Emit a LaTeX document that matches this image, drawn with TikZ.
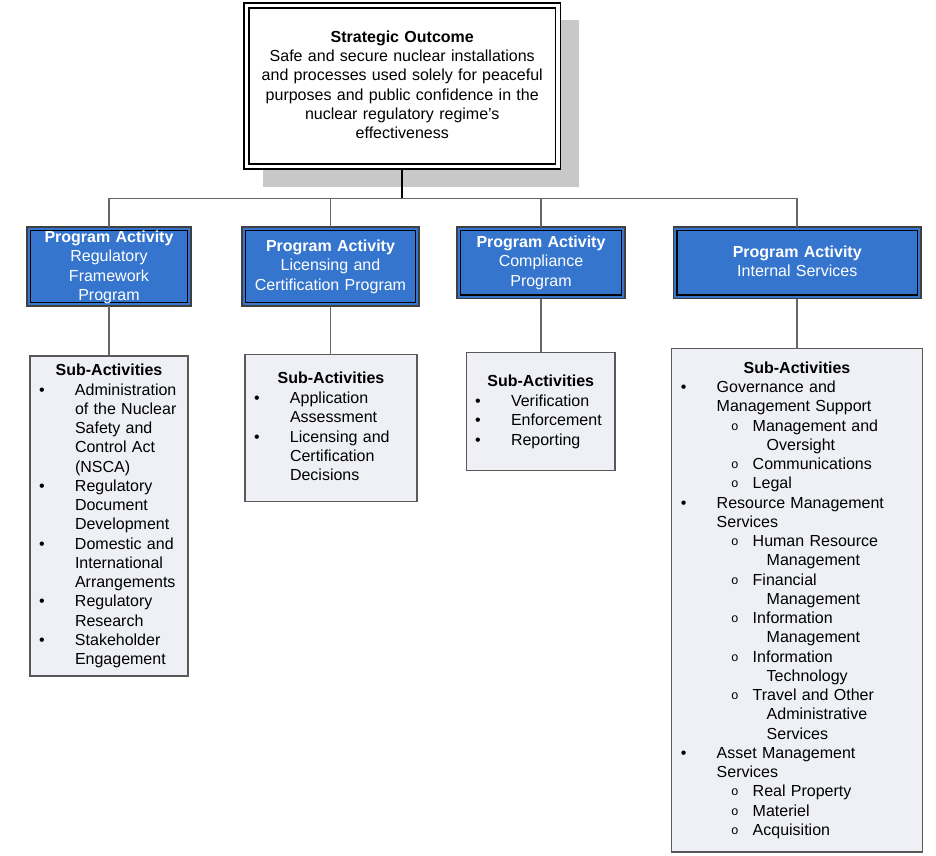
\documentclass[tikz,border=0pt]{standalone}
\usepackage{fontspec}
\setmainfont{Liberation Sans}
\newfontfamily\monof{Liberation Mono}
\definecolor{pablue}{RGB}{53,117,206}
\definecolor{subfill}{RGB}{238,240,245}
\definecolor{shadowgray}{RGB}{200,200,200}
\newlength\bw
\setlength\bw{35.8pt}
\newcommand\lbul[1]{\makebox[\bw][l]{•}#1}
\newcommand\lcont[1]{\hspace*{\bw}#1}
\newcommand\lsub[1]{\hspace*{50.3pt}\makebox[21.5pt][l]{\raisebox{1pt}{\monof\fontsize{12.5}{12}\selectfont o}}#1}
\newcommand\lsubc[1]{\hspace*{85.8pt}#1}
\begin{document}
\begin{tikzpicture}[x=1pt,y=-1pt,
  every node/.style={inner sep=0pt, outer sep=0pt},
  txt/.style={font=\fontsize{16}{19.25}\selectfont},
  toptxt/.style={font=\fontsize{16}{19.1}\selectfont},
  shadowbox/.style={fill=shadowgray, draw=none, anchor=north west},
  topbox/.style={draw=black, line width=1.3pt, fill=white, anchor=north west},
  pabox/.style={draw=black!75, line width=1.3pt, fill=pablue, anchor=north west},
  subbox/.style={draw=black!65, line width=1.3pt, fill=subfill, anchor=north west},
  inner/.style={draw=black, line width=1.1pt},
  conn/.style={draw=black!60, line width=1.6pt},
]
\useasboundingbox (0,0) rectangle (936,855);
\fill[white] (0,0) rectangle (936,855);

% strategic outcome
\node[shadowbox, minimum width=316.3pt, minimum height=166.7pt] (sh) at (262.7,20) {};
\node[topbox, minimum width=316.5pt, minimum height=166pt] (so) at (244,3) {};
\draw[inner, line width=1.3pt] ([xshift=5pt,yshift=-5pt]so.north west) rectangle ([xshift=-5pt,yshift=5pt]so.south east);
\node[toptxt, text width=310pt, align=center, anchor=base] (sot) at (402.25,42.7)
  {\textbf{Strategic Outcome}\\Safe and secure nuclear installations\\and processes used solely for peaceful\\purposes and public confidence in the\\nuclear regulatory regime’s\\effectiveness};

% program activity boxes
\node[pabox, minimum width=164pt, minimum height=79pt] (p1) at (27,227) {};
\node[pabox, minimum width=177pt, minimum height=79pt] (p2) at (242,227) {};
\node[pabox, minimum width=168pt, minimum height=71.5pt] (p3) at (457,227) {};
\node[pabox, minimum width=247.5pt, minimum height=71.5pt] (p4) at (673.5,227) {};
\foreach \p in {p1,p2,p3,p4}
  \draw[inner] ([xshift=3.5pt,yshift=-3.5pt]\p.north west) rectangle ([xshift=-3.5pt,yshift=3.5pt]\p.south east);

\node[txt, white, text width=160pt, align=center, anchor=base] (p1t) at (109,242.5)
  {\textbf{Program Activity}\\Regulatory\\Framework\\Program};
\node[txt, white, text width=172pt, align=center, anchor=base] (p2t) at (330.5,251.5)
  {\textbf{Program Activity}\\Licensing and\\Certification Program};
\node[txt, white, text width=164pt, align=center, anchor=base] (p3t) at (541,247.5)
  {\textbf{Program Activity}\\Compliance\\Program};
\node[txt, white, text width=240pt, align=center, anchor=base] (p4t) at (797.25,257.5)
  {\textbf{Program Activity}\\Internal Services};

% sub-activity boxes
\node[subbox, minimum width=158pt, minimum height=320pt] (s1) at (30,356) {};
\node[subbox, minimum width=172pt, minimum height=146.8pt] (s2) at (245,354.5) {};
\node[subbox, minimum width=148.5pt, minimum height=118pt] (s3) at (466.5,352.5) {};
\node[subbox, minimum width=251pt, minimum height=503.5pt] (s4) at (671.5,348.5) {};

% connectors
\coordinate (bus) at (402.25,198.5);
\draw[line width=1.8pt, black] (so.south) -- (bus);
\foreach \p in {p1,p2,p3,p4} \draw[conn] (\p.north) |- (bus);
\draw[conn] (p1.south) -- (p1.south |- s1.north);
\draw[conn] (p2.south) -- (p2.south |- s2.north);
\draw[conn] (p3.south) -- (p3.south |- s3.north);
\draw[conn] (p4.south) -- (p4.south |- s4.north);

% sub-activity texts
\node[txt, anchor=base] (s1h) at (109,375.8) {\textbf{Sub-Activities}};
\node[txt, text width=145pt, align=left, anchor=base west] (s1l) at (39.2,395)
  {\lbul{Administration}\\\lcont{of the Nuclear}\\\lcont{Safety and}\\\lcont{Control Act}\\\lcont{(NSCA)}\\
   \lbul{Regulatory}\\\lcont{Document}\\\lcont{Development}\\
   \lbul{Domestic and}\\\lcont{International}\\\lcont{Arrangements}\\
   \lbul{Regulatory}\\\lcont{Research}\\
   \lbul{Stakeholder}\\\lcont{Engagement}};

\node[txt, anchor=base] (s2h) at (331,383.5) {\textbf{Sub-Activities}};
\node[txt, text width=160pt, align=left, anchor=base west] (s2l) at (254.2,403.5)
  {\lbul{Application}\\\lcont{Assessment}\\\lbul{Licensing and}\\\lcont{Certification}\\\lcont{Decisions}};

\node[txt, anchor=base] (s3h) at (540.75,386.5) {\textbf{Sub-Activities}};
\node[txt, text width=140pt, align=left, anchor=base west] (s3l) at (475.2,406.5)
  {\lbul{Verification}\\\lbul{Enforcement}\\\lbul{Reporting}};

\node[txt, anchor=base] (s4h) at (797,373.5) {\textbf{Sub-Activities}};
\node[txt, text width=235pt, align=left, anchor=base west] (s4l) at (680.9,392.5)
  {\lbul{Governance and}\\\lcont{Management Support}\\
   \lsub{Management and}\\\lsubc{Oversight}\\\lsub{Communications}\\\lsub{Legal}\\
   \lbul{Resource Management}\\\lcont{Services}\\
   \lsub{Human Resource}\\\lsubc{Management}\\\lsub{Financial}\\\lsubc{Management}\\
   \lsub{Information}\\\lsubc{Management}\\\lsub{Information}\\\lsubc{Technology}\\
   \lsub{Travel and Other}\\\lsubc{Administrative}\\\lsubc{Services}\\
   \lbul{Asset Management}\\\lcont{Services}\\
   \lsub{Real Property}\\\lsub{Materiel}\\\lsub{Acquisition}};
\end{tikzpicture}
\end{document}
